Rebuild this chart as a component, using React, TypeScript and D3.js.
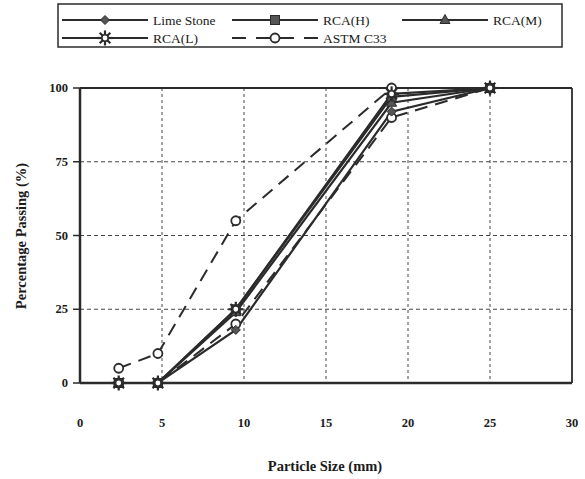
import React from "react";
import * as d3 from "d3";

const sizes = [2.36, 4.75, 9.5, 19, 25];
const limeStone = [0, 0, 18, 92, 100];
const rcaH = [0, 0, 25, 97, 100];
const rcaM = [0, 0, 24, 95, 100];
const rcaL = [0, 0, 25, 98, 100];
const astmUpper = [5, 10, 55, 100, 100];
const astmLower = [0, 0, 20, 90, 100];
const xTicks = [0, 5, 10, 15, 20, 25, 30];
const yTicks = [0, 25, 50, 75, 100];

const W = 585, H = 479;
const x = d3.scaleLinear().domain([0, 30]).range([80, 572]);
const y = d3.scaleLinear().domain([0, 100]).range([383, 88]);
const INK = "#2b2b2b";
const FILL = "#555";
const serif = "'Liberation Serif', 'DejaVu Serif', serif";

type M = "diamond" | "square" | "triangle" | "star" | "circle";

function Marker({ t, cx, cy }: { t: M; cx: number; cy: number }) {
  if (t === "diamond") {
    const r = 4.5;
    return <path d={`M${cx},${cy - r}L${cx + r},${cy}L${cx},${cy + r}L${cx - r},${cy}Z`} fill={FILL} stroke={INK} strokeWidth={1} />;
  }
  if (t === "square") {
    return <rect x={cx - 4.5} y={cy - 4.5} width={9} height={9} fill={FILL} stroke={INK} strokeWidth={1} />;
  }
  if (t === "triangle") {
    return <path d={`M${cx},${cy - 5.5}L${cx + 5},${cy + 3.5}L${cx - 5},${cy + 3.5}Z`} fill={FILL} stroke={INK} strokeWidth={1} />;
  }
  if (t === "circle") {
    return <circle cx={cx} cy={cy} r={4.5} fill="#fff" stroke={INK} strokeWidth={1.8} />;
  }
  const r = 7.5;
  const angs = [0, 45, 90, 135];
  return (
    <g stroke={INK} strokeWidth={2.2}>
      {angs.map((a) => {
        const rad = (a * Math.PI) / 180;
        return <line key={a} x1={cx - r * Math.cos(rad)} y1={cy - r * Math.sin(rad)} x2={cx + r * Math.cos(rad)} y2={cy + r * Math.sin(rad)} />;
      })}
      <circle cx={cx} cy={cy} r={3.2} fill="#fff" strokeWidth={1.6} />
    </g>
  );
}

const series: { name: string; vals: number[]; m: M; dash?: string }[] = [
  { name: "Lime Stone", vals: limeStone, m: "diamond" },
  { name: "RCA(H)", vals: rcaH, m: "square" },
  { name: "RCA(M)", vals: rcaM, m: "triangle" },
  { name: "RCA(L)", vals: rcaL, m: "star" },
  { name: "ASTM C33", vals: astmUpper, m: "circle", dash: "13,8" },
];

export default function App() {
  const line = d3.line<number>().x((_, i) => x(sizes[i])).y((v) => y(v));
  const legend = [
    { s: series[0], lx: 62, ly: 20 },
    { s: series[1], lx: 232, ly: 20 },
    { s: series[2], lx: 402, ly: 20 },
    { s: series[3], lx: 62, ly: 38 },
    { s: series[4], lx: 232, ly: 38 },
  ];
  return (
    <svg width={W} height={H} style={{ position: "absolute", left: 0, top: 0, background: "#fff" }} fontFamily={serif}>
      {/* legend box */}
      <rect x={58} y={4} width={504} height={43} fill="none" stroke={INK} strokeWidth={1.5} />
      {legend.map(({ s, lx, ly }) => (
        <g key={s.name}>
          <line x1={lx} x2={lx + 86} y1={ly} y2={ly} stroke={INK} strokeWidth={2} strokeDasharray={s.dash ? "14,10" : undefined} />
          <Marker t={s.m} cx={lx + 43} cy={ly} />
          <text x={lx + 91} y={ly + 4.5} fontSize={13.5} fill="#1a1a1a">{s.name}</text>
        </g>
      ))}
      {/* grid */}
      {xTicks.filter((t) => t > 0 && t < 30).map((t) => (
        <line key={"gx" + t} x1={x(t)} x2={x(t)} y1={y(100)} y2={y(0)} stroke="#444" strokeWidth={1} strokeDasharray="3,3" />
      ))}
      {yTicks.filter((t) => t > 0 && t < 100).map((t) => (
        <line key={"gy" + t} x1={x(0)} x2={x(30)} y1={y(t)} y2={y(t)} stroke="#444" strokeWidth={1} strokeDasharray="4,3" />
      ))}
      {/* frame */}
      <line x1={x(0)} x2={x(30)} y1={y(100)} y2={y(100)} stroke={INK} strokeWidth={2} />
      <line x1={x(30)} x2={x(30)} y1={y(100)} y2={y(0)} stroke={INK} strokeWidth={1.8} />
      <line x1={x(0)} x2={x(30)} y1={y(0)} y2={y(0)} stroke={INK} strokeWidth={2.5} />
      <line x1={x(0)} x2={x(0)} y1={y(100)} y2={y(0)} stroke={INK} strokeWidth={2.5} />
      {yTicks.map((t) => (
        <g key={"yt" + t}>
          <line x1={x(0) - 7} x2={x(0)} y1={y(t)} y2={y(t)} stroke={INK} strokeWidth={1.5} />
          <text x={68} y={y(t) + 4} textAnchor="end" fontSize={12.5} fontWeight="bold" fill="#1a1a1a">{t}</text>
        </g>
      ))}
      {xTicks.map((t) => (
        <text key={"xt" + t} x={x(t)} y={427} textAnchor="middle" fontSize={12.5} fontWeight="bold" fill="#1a1a1a">{t}</text>
      ))}
      {/* lines */}
      <path d={line(astmLower) || ""} fill="none" stroke={INK} strokeWidth={2} strokeDasharray="13,8" />
      <path d={line(astmUpper) || ""} fill="none" stroke={INK} strokeWidth={2} strokeDasharray="13,8" />
      {series.slice(0, 4).map((s) => (
        <path key={s.name} d={line(s.vals) || ""} fill="none" stroke={INK} strokeWidth={2.2} />
      ))}
      {/* markers */}
      {astmLower.map((v, i) => (
        <Marker key={"al" + i} t="circle" cx={x(sizes[i])} cy={y(v)} />
      ))}
      {astmUpper.map((v, i) => (
        <Marker key={"au" + i} t="circle" cx={x(sizes[i])} cy={y(v)} />
      ))}
      {series.slice(0, 4).map((s) =>
        s.vals.map((v, i) => <Marker key={s.name + i} t={s.m} cx={x(sizes[i])} cy={y(v)} />)
      )}
      {/* axis titles */}
      <text x={325} y={471} textAnchor="middle" fontSize={14.5} fontWeight="bold" fill="#1a1a1a">Particle Size (mm)</text>
      <text transform={`translate(26,236) rotate(-90)`} textAnchor="middle" fontSize={14.5} fontWeight="bold" fill="#1a1a1a">Percentage Passing (%)</text>
    </svg>
  );
}
